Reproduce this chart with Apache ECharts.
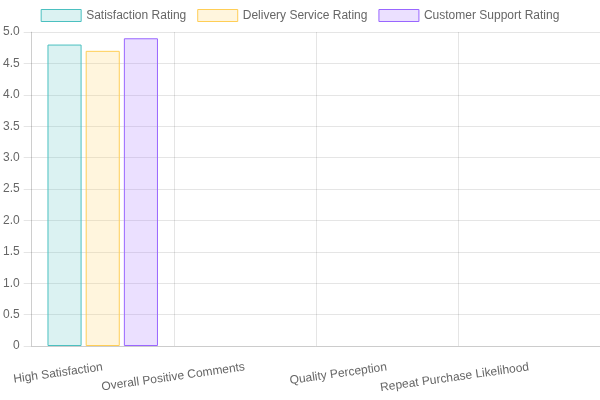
<!DOCTYPE html>
<html>
<head>
<meta charset="utf-8">
<script src="https://cdn.jsdelivr.net/npm/echarts@6/dist/echarts.min.js"></script>
<style>
  html, body { margin: 0; padding: 0; background: #fff; }
  #chart { width: 600px; height: 400px; }
</style>
</head>
<body>
<div id="chart"></div>
<script>
const categories = ["High Satisfaction", "Overall Positive Comments", "Quality Perception", "Repeat Purchase Likelihood"];
const satisfactionRating = [4.8];
const deliveryRating = [4.7];
const supportRating = [4.9];

const font = "'Liberation Sans', Arial, sans-serif";
const gridColor = "rgba(0,0,0,0.1)";

function barSeries(name, data, rgb) {
  return {
    name: name,
    type: "bar",
    data: data,
    barWidth: "24%",
    barGap: "12%",
    itemStyle: {
      color: "rgba(" + rgb + ",0.2)",
      borderColor: "rgb(" + rgb + ")",
      borderWidth: 1,
    },
  };
}

const chart = echarts.init(document.getElementById("chart"));
chart.setOption({
  animation: false,
  textStyle: { fontFamily: font },
  legend: {
    top: 4,
    left: "center",
    icon: "rect",
    itemWidth: 40,
    itemHeight: 12,
    itemGap: 11,
    itemStyle: { borderWidth: 1 },
    textStyle: { color: "#666", fontSize: 12, fontFamily: font },
  },
  grid: { left: 30, right: 0, top: 32, bottom: 54 },
  xAxis: {
    type: "category",
    data: categories,
    axisLine: { lineStyle: { color: "#ccc" } },
    axisTick: { length: 6, lineStyle: { color: gridColor } },
    splitLine: { show: true, lineStyle: { color: gridColor } },
    axisLabel: {
      rotate: 8,
      margin: 21,
      interval: 0,
      color: "#666",
      fontSize: 12,
      fontFamily: font,
    },
  },
  yAxis: {
    type: "value",
    min: 0,
    max: 5,
    interval: 0.5,
    axisLine: { show: true, lineStyle: { color: gridColor } },
    axisTick: { show: true, length: 8, lineStyle: { color: gridColor } },
    splitLine: { lineStyle: { color: gridColor } },
    axisLabel: {
      margin: 12,
      color: "#666",
      fontSize: 12,
      fontFamily: font,
      formatter: (v) => (v === 0 ? "0" : v.toFixed(1)),
    },
  },
  series: [
    barSeries("Satisfaction Rating", satisfactionRating, "75,192,192"),
    barSeries("Delivery Service Rating", deliveryRating, "255,206,86"),
    barSeries("Customer Support Rating", supportRating, "153,102,255"),
  ],
});
</script>
</body>
</html>
